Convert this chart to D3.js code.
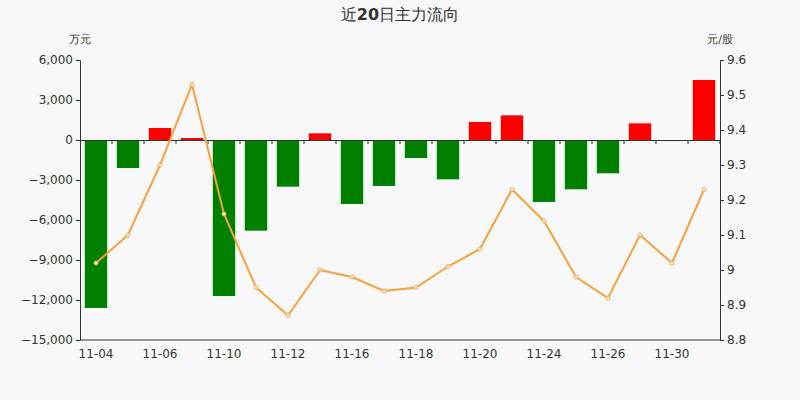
<html>
<head>
<meta charset="UTF-8">
<script src="https://d3js.org/d3.v7.min.js"></script>
<style>
  body { margin: 0; background: #f8f8f8; }
  text { font-family: "DejaVu Sans", sans-serif; }
</style>
</head>
<body>
<svg width="800" height="400"></svg>
<script>
var dates = ['11-04','11-05','11-06','11-09','11-10','11-11','11-12','11-13','11-16','11-17',
             '11-18','11-19','11-20','11-23','11-24','11-25','11-26','11-27','11-30','12-01'];
var flow = [-12600,-2100,900,150,-11700,-6800,-3500,500,-4800,-3450,
            -1350,-2950,1350,1850,-4650,-3700,-2500,1250,-80,4500];
var price = [9.02,9.10,9.30,9.53,9.16,8.95,8.87,9.00,8.98,8.94,
             8.95,9.01,9.06,9.23,9.14,8.98,8.92,9.10,9.02,9.23];
var leftTicks = [6000,3000,0,-3000,-6000,-9000,-12000,-15000];
var rightTicks = [9.6,9.5,9.4,9.3,9.2,9.1,9,8.9,8.8];

var svg = d3.select('svg');
svg.append('rect').attr('width',800).attr('height',400).attr('fill','#f8f8f8');

var pLeft = 80, pRight = 720, pTop = 60, pBottom = 340;
var x = d3.scaleBand().domain(dates).range([pLeft, pRight]).paddingInner(0.3).paddingOuter(0.15);
var yL = d3.scaleLinear().domain([-15000, 6000]).range([pBottom, pTop]);
var yR = d3.scaleLinear().domain([8.8, 9.6]).range([pBottom, pTop]);

var title = svg.append('text').attr('x',400).attr('y',20).attr('text-anchor','middle')
  .attr('font-size',16).attr('fill','#333');
title.append('tspan').text('近');
title.append('tspan').attr('font-weight','bold').text('20');
title.append('tspan').text('日主力流向');
svg.append('text').attr('x',80).attr('y',43).attr('text-anchor','middle')
  .attr('font-size',11).attr('fill','#333').text('万元');
svg.append('text').attr('x',720).attr('y',43).attr('text-anchor','middle')
  .attr('font-size',11).attr('fill','#333').text('元/股');

svg.append('g').attr('transform','translate('+pLeft+',0)')
  .call(d3.axisLeft(yL).tickValues(leftTicks).tickFormat(d3.format(',')).tickSize(4))
  .call(g => g.selectAll('text').attr('font-size',12).attr('fill','#333'))
  .call(g => g.selectAll('line,path').attr('stroke','#333'));
svg.append('g').attr('transform','translate('+pRight+',0)')
  .call(d3.axisRight(yR).tickValues(rightTicks).tickFormat(d => String(d)).tickSize(4))
  .call(g => g.selectAll('text').attr('font-size',12).attr('fill','#333'))
  .call(g => g.selectAll('line,path').attr('stroke','#333'));

svg.append('g').selectAll('rect').data(flow).enter().append('rect')
  .attr('x', (d,i) => x(dates[i]))
  .attr('width', x.bandwidth())
  .attr('y', d => yL(Math.max(0,d)))
  .attr('height', d => Math.abs(yL(d) - yL(0)))
  .attr('fill', d => d >= 0 ? '#ff0000' : '#008000');

var xa = svg.append('g').attr('transform','translate(0,'+yL(0)+')')
  .call(d3.axisBottom(x).tickValues([]).tickSizeOuter(0));
xa.select('path').attr('stroke','#333');
xa.selectAll('.tk').data(dates).enter().append('line')
  .attr('x1', d => x(d) + x.bandwidth()/2 + x.step()/2)
  .attr('x2', d => x(d) + x.bandwidth()/2 + x.step()/2)
  .attr('y1',0).attr('y2',4).attr('stroke','#333');
svg.append('line').attr('x1',pLeft).attr('x2',pRight).attr('y1',pBottom).attr('y2',pBottom).attr('stroke','#333');
svg.append('g').selectAll('text').data(dates.filter((d,i) => i % 2 === 0)).enter().append('text')
  .attr('x', d => x(d) + x.bandwidth()/2).attr('y', pBottom + 18)
  .attr('text-anchor','middle').attr('font-size',12).attr('fill','#333').text(d => d);

var line = d3.line().x((d,i) => x(dates[i]) + x.bandwidth()/2).y(d => yR(d));
svg.append('path').datum(price).attr('d', line).attr('fill','none')
  .attr('stroke','#f7a040').attr('stroke-width',2);
svg.append('g').selectAll('circle').data(price).enter().append('circle')
  .attr('cx', (d,i) => x(dates[i]) + x.bandwidth()/2).attr('cy', d => yR(d)).attr('r',2)
  .attr('fill','#fff').attr('stroke','#f7a040').attr('stroke-width',1);
</script>
</body>
</html>
